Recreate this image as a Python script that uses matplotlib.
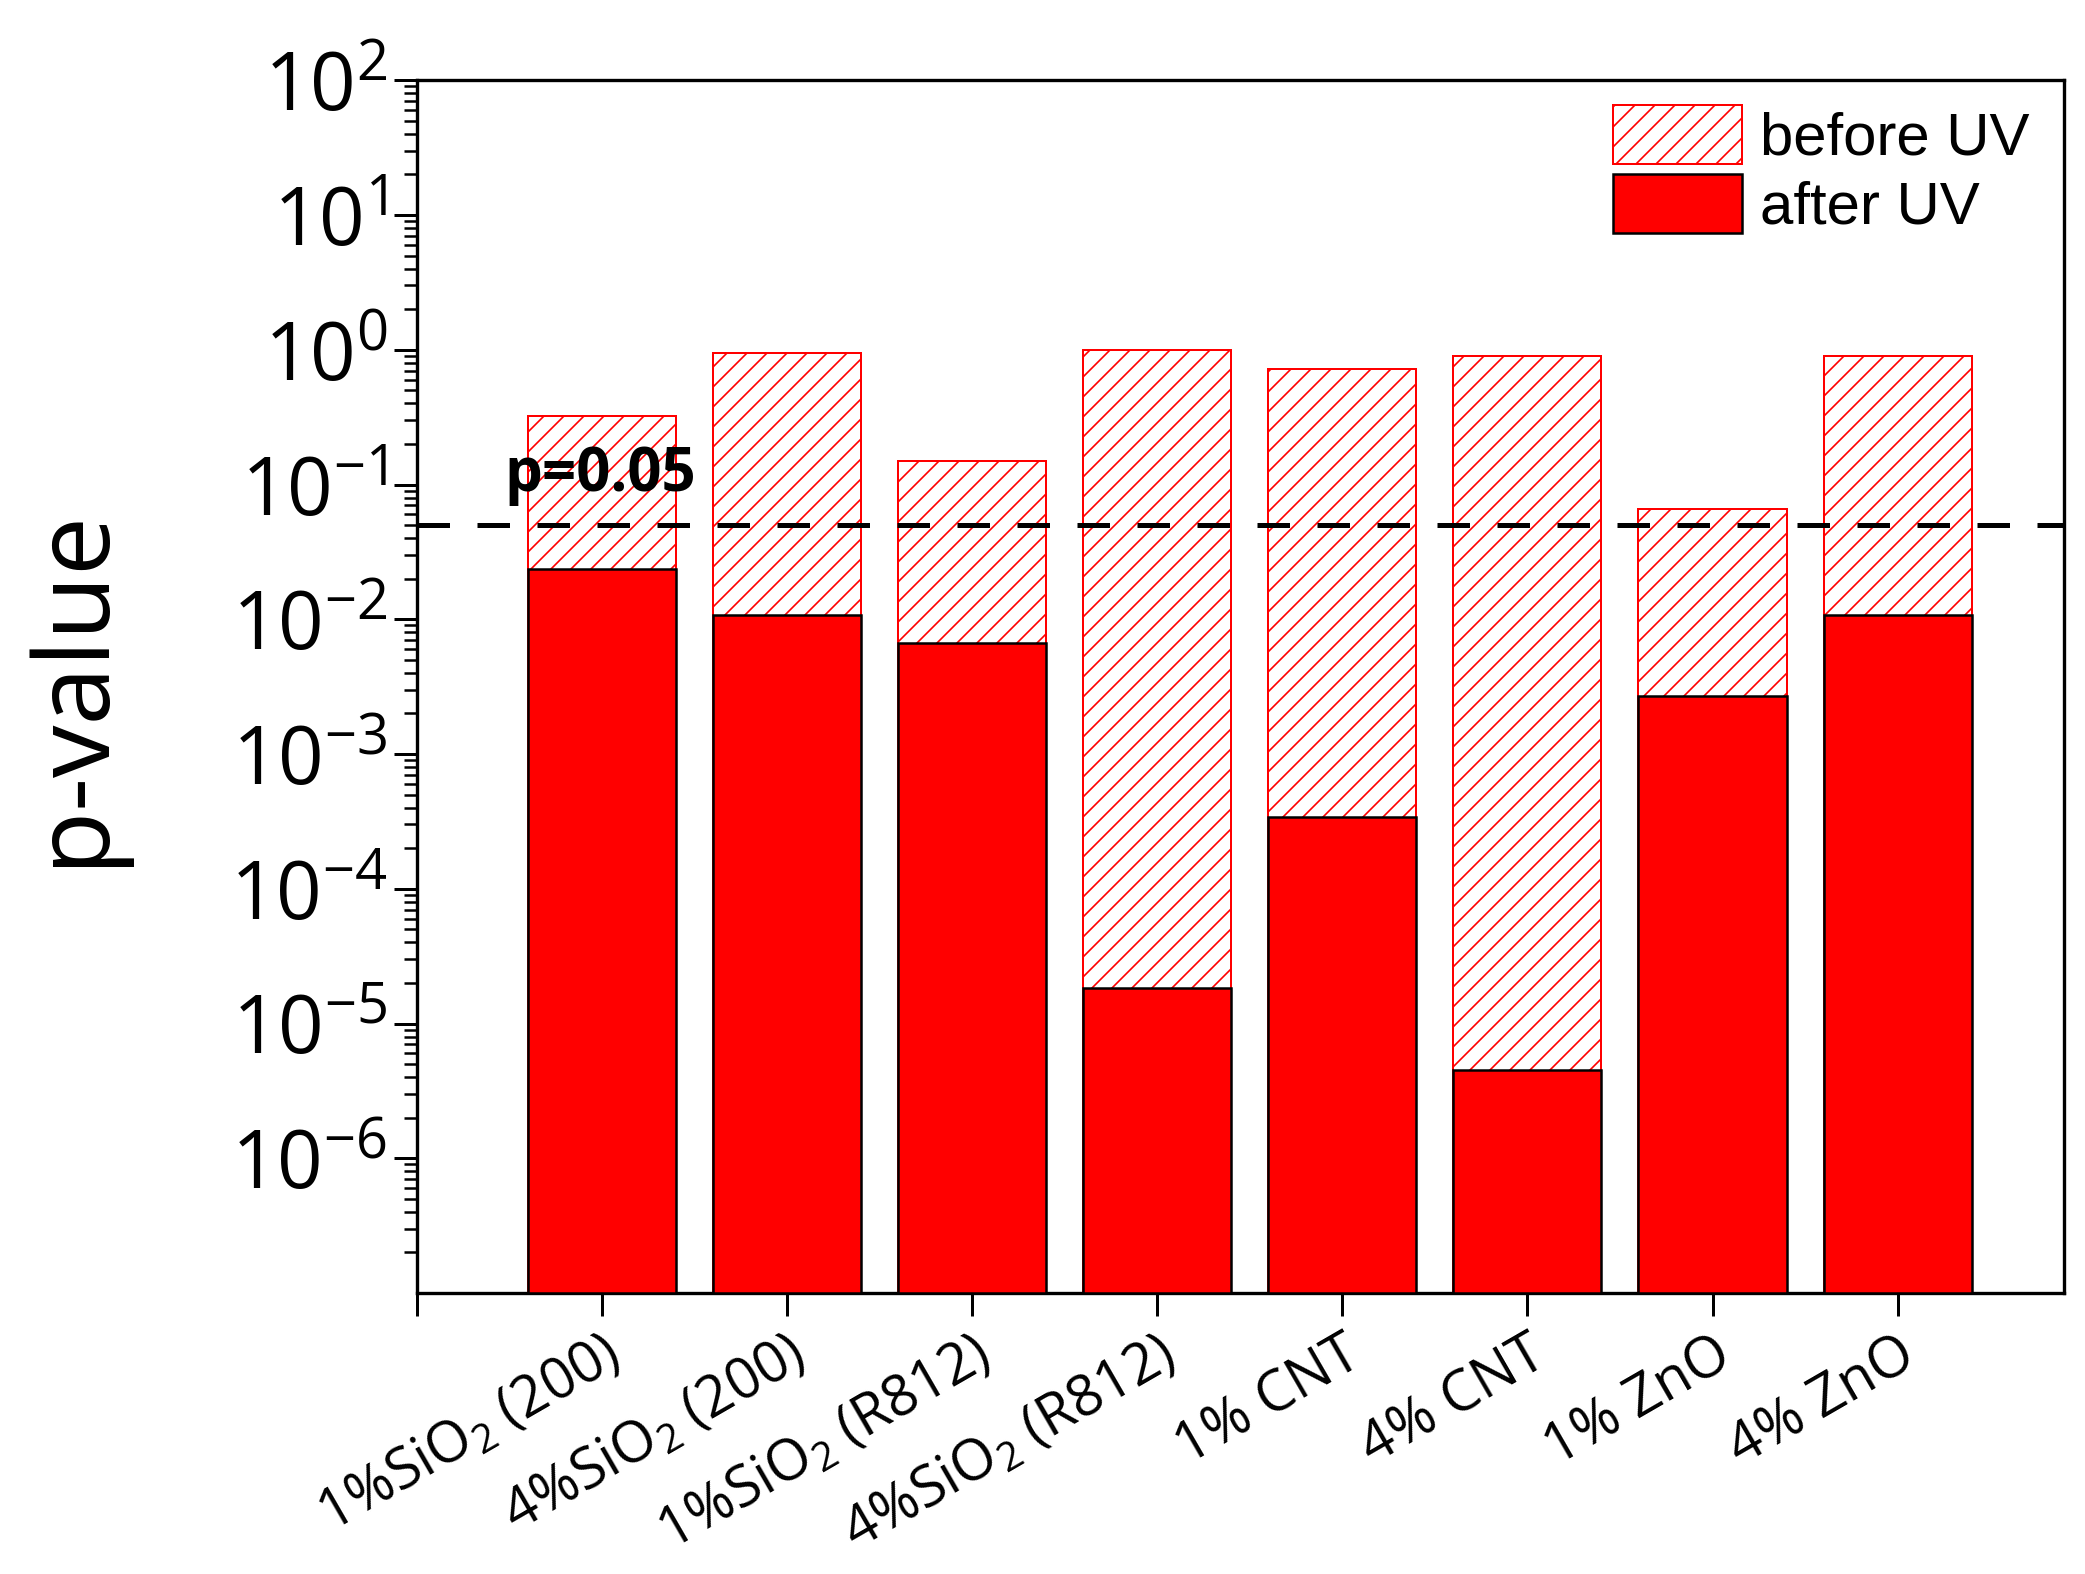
import matplotlib
matplotlib.use("Agg")
import matplotlib.pyplot as plt
import numpy as np
from matplotlib.patches import Patch
from matplotlib.ticker import LogLocator, FixedLocator, FixedFormatter, NullFormatter

categories = [r"1%SiO$\mathregular{_2}$ (200)", r"4%SiO$\mathregular{_2}$ (200)",
              r"1%SiO$\mathregular{_2}$ (R812)", r"4%SiO$\mathregular{_2}$ (R812)",
              "1% CNT", "4% CNT", "1% ZnO", "4% ZnO"]
before_uv = [0.325, 0.946, 0.150, 0.99, 0.72, 0.906, 0.066, 0.906]
after_uv = [0.0238, 0.0108, 0.00667, 1.85e-5, 3.4e-4, 4.5e-6, 2.69e-3, 0.0108]
threshold = 0.05
ytick_exps = [-6, -5, -4, -3, -2, -1, 0, 1, 2]

plt.rcParams['font.family'] = ['Open Sans', 'DejaVu Sans']
plt.rcParams['mathtext.fontset'] = 'custom'
plt.rcParams['mathtext.rm'] = 'Open Sans'
plt.rcParams['hatch.linewidth'] = 1.0

DPI = 120
fig = plt.figure(figsize=(2085 / DPI, 1574 / DPI), dpi=DPI)
ax = fig.add_axes([0.200, 0.1785, 0.790, 0.7705])

x = np.arange(1, len(categories) + 1)
ymin = 1e-7
ax.set_yscale('log')
ax.set_ylim(ymin, 1e2)
ax.set_xlim(0, 8.9)

ax.bar(x, np.array(before_uv) - ymin, bottom=ymin, width=0.8, facecolor='white',
       edgecolor='#ff0000', linewidth=1.2, hatch='//', zorder=2, label='before UV')
ax.bar(x, np.array(after_uv) - ymin, bottom=ymin, width=0.8, facecolor='#ff0000',
       edgecolor='black', linewidth=1.5, zorder=3, label='after UV')

ax.axhline(threshold, color='black', lw=3.0, ls=(0, (6.5, 5.5)), zorder=4)
ax.text(0.47, 0.09, 'p=0.05', fontsize=36, fontweight='bold', ha='left',
        va='baseline', zorder=5)

for s in ax.spines.values():
    s.set_linewidth(2.0)

# y ticks
ax.yaxis.set_major_locator(FixedLocator([10.0 ** e for e in ytick_exps]))
ax.yaxis.set_major_formatter(FixedFormatter(
    [r'$\mathregular{10^{%d}}$' % e for e in ytick_exps]))
ax.yaxis.set_minor_locator(LogLocator(base=10, subs=np.arange(2, 10), numticks=100))
ax.yaxis.set_minor_formatter(NullFormatter())
ax.tick_params(axis='y', which='major', direction='out', length=14, width=1.8,
               labelsize=48, pad=4)
ax.tick_params(axis='y', which='minor', direction='out', length=8, width=1.5)

# x ticks
ax.set_xticks(np.arange(0, len(categories) + 1))
ax.set_xticklabels([''] + categories, rotation=30, ha='right', va='top',
                   rotation_mode='anchor')
ax.tick_params(axis='x', which='major', direction='out', length=14, width=1.8,
               labelsize=34, pad=6)
ax.tick_params(axis='x', which='minor', bottom=False)

ax.set_ylabel('p-value', fontsize=63, labelpad=62)

handles = [Patch(facecolor='white', edgecolor='#ff0000', hatch='//', linewidth=1.2),
           Patch(facecolor='#ff0000', edgecolor='black', linewidth=1.5)]
ax.legend(handles, ['before UV', 'after UV'], loc='upper left',
          bbox_to_anchor=(0.726, 0.98), frameon=False,
          handlelength=2.15, handleheight=1.15, labelspacing=0.12,
          handletextpad=0.3, borderpad=0, borderaxespad=0,
          prop={'family': ['Liberation Sans', 'DejaVu Sans'], 'size': 36})

fig.savefig('out.png', dpi=DPI)
